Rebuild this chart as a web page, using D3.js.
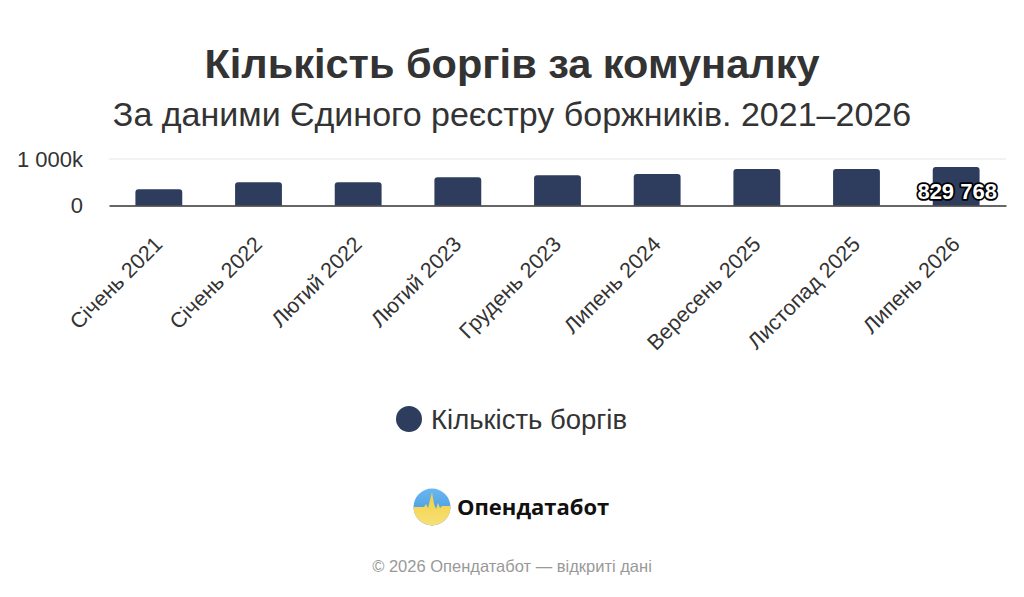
<!DOCTYPE html>
<html>
<head>
<meta charset="utf-8">
<script src="https://cdn.jsdelivr.net/npm/d3@7"></script>
<style>
  body { margin: 0; background: #fff; }
  svg { display: block; }
</style>
</head>
<body>
<div class="vis-holder"></div>
<script>
// chart data
var categories = ["Січень 2021", "Січень 2022", "Лютий 2022", "Лютий 2023", "Грудень 2023",
                  "Липень 2024", "Вересень 2025", "Листопад 2025", "Липень 2026"];
var debts = [350000, 500000, 500000, 608000, 650000, 680000, 786000, 786000, 829768];
var yTicks = [0, 1000000];
var seriesName = "Кількість боргів";
var titleText = "Кількість боргів за комуналку";
var subtitleText = "За даними Єдиного реєстру боржників. 2021–2026";
var footerText = "© 2026 Опендатабот — відкриті дані";

var width = 1024;
var height = 597;
var margin = { top: 159, bottom: 391.5, left: 109, right: 18 };
var barColor = "#2e3d5e";
var font = "'Liberation Sans', Arial, sans-serif";

var svg = d3.select(".vis-holder")
            .append("svg")
            .attr("width", width)
            .attr("height", height);

// titles
svg.append("text")
   .attr("x", width / 2).attr("y", 78)
   .attr("text-anchor", "middle")
   .style("font-family", font).style("font-size", "41.5px").style("font-weight", "bold")
   .attr("fill", "#333")
   .text(titleText);

svg.append("text")
   .attr("x", width / 2).attr("y", 126)
   .attr("text-anchor", "middle")
   .style("font-family", font).style("font-size", "34px")
   .attr("fill", "#333")
   .text(subtitleText);

var xScale = d3.scaleBand()
               .domain(categories)
               .range([margin.left, width - margin.right])
               .paddingInner(0.53)
               .paddingOuter(0.265);

var yScale = d3.scaleLinear()
               .domain([0, 1000000])
               .range([height - margin.bottom, margin.top]);

// grid lines
svg.append("g")
   .selectAll("line")
   .data(yTicks.slice(1))
   .enter()
   .append("line")
   .attr("x1", margin.left).attr("x2", width - margin.right)
   .attr("y1", function(d) { return yScale(d); })
   .attr("y2", function(d) { return yScale(d); })
   .attr("stroke", "#e6e6e6");

// y axis labels
var yAxis = svg.append("g")
               .attr("transform", "translate(" + (margin.left - 26) + ",0)")
               .call(d3.axisLeft(yScale)
                       .tickValues(yTicks)
                       .tickSize(0)
                       .tickFormat(function(d) { return d === 0 ? "0" : "1 000k"; }));
yAxis.select(".domain").remove();
yAxis.selectAll("text")
     .attr("x", 0)
     .attr("dy", "0.33em")
     .style("font-family", font).style("font-size", "22px")
     .attr("fill", "#333");

// bars with rounded top corners
var r = 3;
svg.append("g")
   .selectAll("path")
   .data(debts)
   .enter()
   .append("path")
   .attr("fill", barColor)
   .attr("d", function(d, i) {
     var x0 = xScale(categories[i]);
     var x1 = x0 + xScale.bandwidth();
     var y0 = yScale(0);
     var y1 = yScale(d);
     return "M" + x0 + "," + y0 + "V" + (y1 + r) + "Q" + x0 + "," + y1 + " " + (x0 + r) + "," + y1 +
            "H" + (x1 - r) + "Q" + x1 + "," + y1 + " " + x1 + "," + (y1 + r) + "V" + y0 + "Z";
   });

// x axis
var xAxis = svg.append("g")
               .attr("transform", "translate(0," + yScale(0) + ")")
               .call(d3.axisBottom(xScale).tickSize(0));
xAxis.select(".domain")
     .attr("stroke", "#333")
     .attr("stroke-width", 1.5);
xAxis.selectAll("text")
     .attr("text-anchor", "end")
     .attr("dy", 0)
     .attr("y", 0)
     .attr("transform", "translate(5,40) rotate(-45)")
     .style("font-family", font).style("font-size", "21.5px")
     .attr("fill", "#333");

// data label for the last bar
var last = debts.length - 1;
svg.append("text")
   .attr("x", xScale(categories[last]) + xScale.bandwidth() / 2 + 1)
   .attr("y", 199)
   .attr("text-anchor", "middle")
   .style("font-family", font).style("font-size", "22px").style("font-weight", "bold")
   .attr("fill", "#fff")
   .attr("stroke", "#000")
   .attr("stroke-width", 3.5)
   .attr("stroke-linejoin", "round")
   .attr("paint-order", "stroke")
   .text(d3.format(",")(debts[last]).replace(/,/g, " "));

// legend
svg.append("circle")
   .attr("cx", 409).attr("cy", 419).attr("r", 13)
   .attr("fill", barColor);
svg.append("text")
   .attr("x", 431).attr("y", 429)
   .style("font-family", font).style("font-size", "27.5px")
   .attr("fill", "#333")
   .text(seriesName);

// logo
var defs = svg.append("defs");
var gBlue = defs.append("linearGradient").attr("id", "gBlue").attr("x1", 0).attr("y1", 0).attr("x2", 0).attr("y2", 1);
gBlue.append("stop").attr("offset", "0%").attr("stop-color", "#6ab8f2");
gBlue.append("stop").attr("offset", "100%").attr("stop-color", "#3d8fd8");
var gYellow = defs.append("linearGradient").attr("id", "gYellow").attr("x1", 0).attr("y1", 0).attr("x2", 0).attr("y2", 1);
gYellow.append("stop").attr("offset", "0%").attr("stop-color", "#f2cf3c");
gYellow.append("stop").attr("offset", "100%").attr("stop-color", "#f8e07a");
defs.append("clipPath").attr("id", "logoClip")
    .append("circle").attr("cx", 432).attr("cy", 507).attr("r", 18.5);

var logo = svg.append("g").attr("clip-path", "url(#logoClip)");
logo.append("rect").attr("x", 413).attr("y", 488).attr("width", 38).attr("height", 38).attr("fill", "url(#gBlue)");
logo.append("path")
    .attr("d", "M413,507 L424,507 L426,504 L428,508 L430,500 L432,492 L434,504 L436,509 L438,503 L440,508 L442,506 L451,506 L451,526 L413,526 Z")
    .attr("fill", "url(#gYellow)");

svg.append("text")
   .attr("x", 457).attr("y", 515)
   .style("font-family", "'Open Sans', 'Noto Sans', sans-serif").style("font-size", "22px").style("font-weight", "bold")
   .attr("fill", "#111")
   .text("Опендатабот");

// footer
svg.append("text")
   .attr("x", width / 2).attr("y", 572)
   .attr("text-anchor", "middle")
   .style("font-family", font).style("font-size", "16.5px")
   .attr("fill", "#999")
   .text(footerText);
</script>
</body>
</html>
